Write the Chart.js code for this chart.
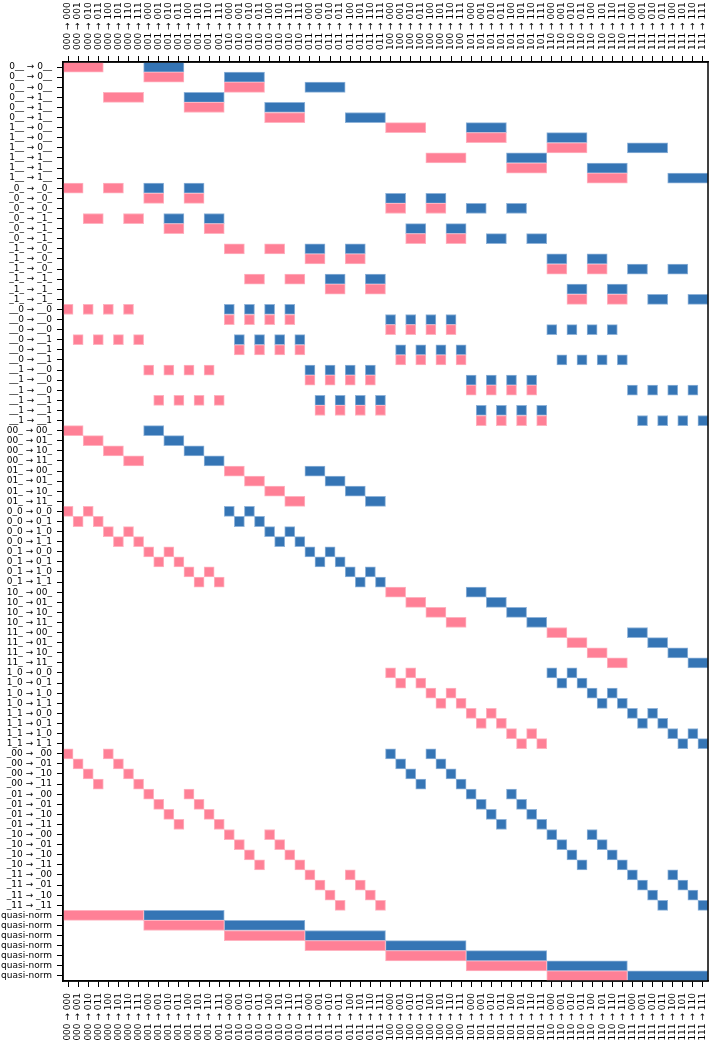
<!DOCTYPE html>
<html lang="en">
<head>
    <meta charset="UTF-8">
    <title>Constraint matrix</title>
    <script src="https://cdn.jsdelivr.net/npm/chart.js"></script>
    <style>
        body { margin: 0; background: #fff; }
        #wrap { width: 709px; height: 1044px; }
    </style>
</head>
<body>
    <div id="wrap"><canvas id="myChart"></canvas></div>

    <script>
        // states and column labels (from -> to)
        const states = ['000', '001', '010', '011', '100', '101', '110', '111'];
        const colLabels = states.flatMap(a => states.map(b => a + ' \u2192 ' + b));

        // row labels, top to bottom
        const rowLabels = [
            '0__ \u2192 0__', '0__ \u2192 0__', '0__ \u2192 0__',
            '0__ \u2192 1__', '0__ \u2192 1__', '0__ \u2192 1__',
            '1__ \u2192 0__', '1__ \u2192 0__', '1__ \u2192 0__',
            '1__ \u2192 1__', '1__ \u2192 1__', '1__ \u2192 1__',
            '_0_ \u2192 _0_', '_0_ \u2192 _0_', '_0_ \u2192 _0_',
            '_0_ \u2192 _1_', '_0_ \u2192 _1_', '_0_ \u2192 _1_',
            '_1_ \u2192 _0_', '_1_ \u2192 _0_', '_1_ \u2192 _0_',
            '_1_ \u2192 _1_', '_1_ \u2192 _1_', '_1_ \u2192 _1_',
            '__0 \u2192 __0', '__0 \u2192 __0', '__0 \u2192 __0',
            '__0 \u2192 __1', '__0 \u2192 __1', '__0 \u2192 __1',
            '__1 \u2192 __0', '__1 \u2192 __0', '__1 \u2192 __0',
            '__1 \u2192 __1', '__1 \u2192 __1', '__1 \u2192 __1',
            '00_ \u2192 00_', '00_ \u2192 01_', '00_ \u2192 10_', '00_ \u2192 11_',
            '01_ \u2192 00_', '01_ \u2192 01_', '01_ \u2192 10_', '01_ \u2192 11_',
            '0_0 \u2192 0_0', '0_0 \u2192 0_1', '0_0 \u2192 1_0', '0_0 \u2192 1_1',
            '0_1 \u2192 0_0', '0_1 \u2192 0_1', '0_1 \u2192 1_0', '0_1 \u2192 1_1',
            '10_ \u2192 00_', '10_ \u2192 01_', '10_ \u2192 10_', '10_ \u2192 11_',
            '11_ \u2192 00_', '11_ \u2192 01_', '11_ \u2192 10_', '11_ \u2192 11_',
            '1_0 \u2192 0_0', '1_0 \u2192 0_1', '1_0 \u2192 1_0', '1_0 \u2192 1_1',
            '1_1 \u2192 0_0', '1_1 \u2192 0_1', '1_1 \u2192 1_0', '1_1 \u2192 1_1',
            '_00 \u2192 _00', '_00 \u2192 _01', '_00 \u2192 _10', '_00 \u2192 _11',
            '_01 \u2192 _00', '_01 \u2192 _01', '_01 \u2192 _10', '_01 \u2192 _11',
            '_10 \u2192 _00', '_10 \u2192 _01', '_10 \u2192 _10', '_10 \u2192 _11',
            '_11 \u2192 _00', '_11 \u2192 _01', '_11 \u2192 _10', '_11 \u2192 _11',
            'quasi-norm', 'quasi-norm', 'quasi-norm', 'quasi-norm',
            'quasi-norm', 'quasi-norm', 'quasi-norm'
        ];

        // pink cells (column indexes) per row
        const pinkCols = [
            [0, 1, 2, 3], [8, 9, 10, 11], [16, 17, 18, 19],
            [4, 5, 6, 7], [12, 13, 14, 15], [20, 21, 22, 23],
            [32, 33, 34, 35], [40, 41, 42, 43], [48, 49, 50, 51],
            [36, 37, 38, 39], [44, 45, 46, 47], [52, 53, 54, 55],
            [0, 1, 4, 5], [8, 9, 12, 13], [32, 33, 36, 37],
            [2, 3, 6, 7], [10, 11, 14, 15], [34, 35, 38, 39],
            [16, 17, 20, 21], [24, 25, 28, 29], [48, 49, 52, 53],
            [18, 19, 22, 23], [26, 27, 30, 31], [50, 51, 54, 55],
            [0, 2, 4, 6], [16, 18, 20, 22], [32, 34, 36, 38],
            [1, 3, 5, 7], [17, 19, 21, 23], [33, 35, 37, 39],
            [8, 10, 12, 14], [24, 26, 28, 30], [40, 42, 44, 46],
            [9, 11, 13, 15], [25, 27, 29, 31], [41, 43, 45, 47],
            [0, 1], [2, 3], [4, 5], [6, 7], [16, 17], [18, 19], [20, 21], [22, 23],
            [0, 2], [1, 3], [4, 6], [5, 7], [8, 10], [9, 11], [12, 14], [13, 15],
            [32, 33], [34, 35], [36, 37], [38, 39], [48, 49], [50, 51], [52, 53], [54, 55],
            [32, 34], [33, 35], [36, 38], [37, 39], [40, 42], [41, 43], [44, 46], [45, 47],
            [0, 4], [1, 5], [2, 6], [3, 7], [8, 12], [9, 13], [10, 14], [11, 15],
            [16, 20], [17, 21], [18, 22], [19, 23], [24, 28], [25, 29], [26, 30], [27, 31],
            [0, 1, 2, 3, 4, 5, 6, 7], [8, 9, 10, 11, 12, 13, 14, 15],
            [16, 17, 18, 19, 20, 21, 22, 23], [24, 25, 26, 27, 28, 29, 30, 31],
            [32, 33, 34, 35, 36, 37, 38, 39], [40, 41, 42, 43, 44, 45, 46, 47],
            [48, 49, 50, 51, 52, 53, 54, 55]
        ];

        // blue cells (column indexes) per row
        const blueCols = [
            [8, 9, 10, 11], [16, 17, 18, 19], [24, 25, 26, 27],
            [12, 13, 14, 15], [20, 21, 22, 23], [28, 29, 30, 31],
            [40, 41, 42, 43], [48, 49, 50, 51], [56, 57, 58, 59],
            [44, 45, 46, 47], [52, 53, 54, 55], [60, 61, 62, 63],
            [8, 9, 12, 13], [32, 33, 36, 37], [40, 41, 44, 45],
            [10, 11, 14, 15], [34, 35, 38, 39], [42, 43, 46, 47],
            [24, 25, 28, 29], [48, 49, 52, 53], [56, 57, 60, 61],
            [26, 27, 30, 31], [50, 51, 54, 55], [58, 59, 62, 63],
            [16, 18, 20, 22], [32, 34, 36, 38], [48, 50, 52, 54],
            [17, 19, 21, 23], [33, 35, 37, 39], [49, 51, 53, 55],
            [24, 26, 28, 30], [40, 42, 44, 46], [56, 58, 60, 62],
            [25, 27, 29, 31], [41, 43, 45, 47], [57, 59, 61, 63],
            [8, 9], [10, 11], [12, 13], [14, 15], [24, 25], [26, 27], [28, 29], [30, 31],
            [16, 18], [17, 19], [20, 22], [21, 23], [24, 26], [25, 27], [28, 30], [29, 31],
            [40, 41], [42, 43], [44, 45], [46, 47], [56, 57], [58, 59], [60, 61], [62, 63],
            [48, 50], [49, 51], [52, 54], [53, 55], [56, 58], [57, 59], [60, 62], [61, 63],
            [32, 36], [33, 37], [34, 38], [35, 39], [40, 44], [41, 45], [42, 46], [43, 47],
            [48, 52], [49, 53], [50, 54], [51, 55], [56, 60], [57, 61], [58, 62], [59, 63],
            [8, 9, 10, 11, 12, 13, 14, 15], [16, 17, 18, 19, 20, 21, 22, 23],
            [24, 25, 26, 27, 28, 29, 30, 31], [32, 33, 34, 35, 36, 37, 38, 39],
            [40, 41, 42, 43, 44, 45, 46, 47], [48, 49, 50, 51, 52, 53, 54, 55],
            [56, 57, 58, 59, 60, 61, 62, 63]
        ];

        // join neighbouring cells into [start, end] runs
        function toRuns(cols) {
            var runs = [];
            cols.forEach(c => {
                var last = runs[runs.length - 1];
                if (last && last[1] === c) last[1] = c + 1;
                else runs.push([c, c + 1]);
            });
            return runs;
        }

        function makeSets(cellRows, fill, edge) {
            var runRows = cellRows.map(toRuns);
            var n = Math.max(...runRows.map(r => r.length));
            var sets = [];
            for (var k = 0; k < n; k++) {
                sets.push({
                    data: runRows.map(r => r[k] || null),
                    backgroundColor: fill,
                    borderColor: edge,
                    borderWidth: 1,
                    borderSkipped: false,
                    grouped: false,
                    barPercentage: 1,
                    categoryPercentage: 1
                });
            }
            return sets;
        }

        var font = { family: 'DejaVu Sans', size: 9 };

        // black frame round the plot area
        var frame = {
            id: 'frame',
            afterDraw(chart) {
                var a = chart.chartArea, ctx = chart.ctx;
                ctx.save();
                ctx.strokeStyle = '#000';
                ctx.lineWidth = 1.5;
                ctx.strokeRect(a.left, a.top, a.right - a.left, a.bottom - a.top);
                ctx.restore();
            }
        };

        // fixed axis sizes so the plot box sits where the original has it
        function fixSize(size) {
            return s => {
                if (s.isHorizontal()) s.height = size; else s.width = size;
                s.paddingLeft = s.paddingRight = s.paddingTop = s.paddingBottom = 0;
            };
        }

        function xAxis(pos, size) {
            return {
                type: 'linear',
                position: pos,
                min: 0,
                max: 64,
                afterBuildTicks: s => { s.ticks = colLabels.map((_, i) => ({ value: i + 0.5 })); },
                afterFit: fixSize(size),
                ticks: {
                    autoSkip: false,
                    minRotation: 90,
                    maxRotation: 90,
                    padding: 6,
                    // chart.js pushes rotated top labels one line to the left
                    labelOffset: pos === 'top' ? 10.8 : 0,
                    color: '#000',
                    font: font,
                    callback: (v, i) => colLabels[i]
                },
                grid: { drawOnChartArea: false, tickLength: 6, color: '#000' },
                border: { color: '#000', width: 1.5 }
            };
        }

        var ctx = document.getElementById('myChart').getContext('2d');
        var myChart = new Chart(ctx, {
            type: 'bar',
            data: {
                labels: rowLabels,
                datasets: makeSets(pinkCols, '#ff8096', '#ffb3c0')
                    .concat(makeSets(blueCols, '#3575b5', '#8fb3d9'))
            },
            options: {
                indexAxis: 'y',
                responsive: true,
                maintainAspectRatio: false,
                animation: false,
                layout: { padding: { left: 0, right: 1, top: 0, bottom: 0 } },
                plugins: { legend: { display: false }, tooltip: { enabled: false } },
                scales: {
                    x: xAxis('bottom', 63),
                    x2: xAxis('top', 62),
                    y: {
                        type: 'category',
                        offset: true,
                        afterFit: fixSize(63),
                        grid: { offset: false, drawOnChartArea: false, tickLength: 6, color: '#000' },
                        ticks: { autoSkip: false, padding: 5, color: '#000', font: font },
                        border: { color: '#000', width: 1.5 }
                    }
                }
            },
            plugins: [frame]
        });
    </script>
</body>
</html>
